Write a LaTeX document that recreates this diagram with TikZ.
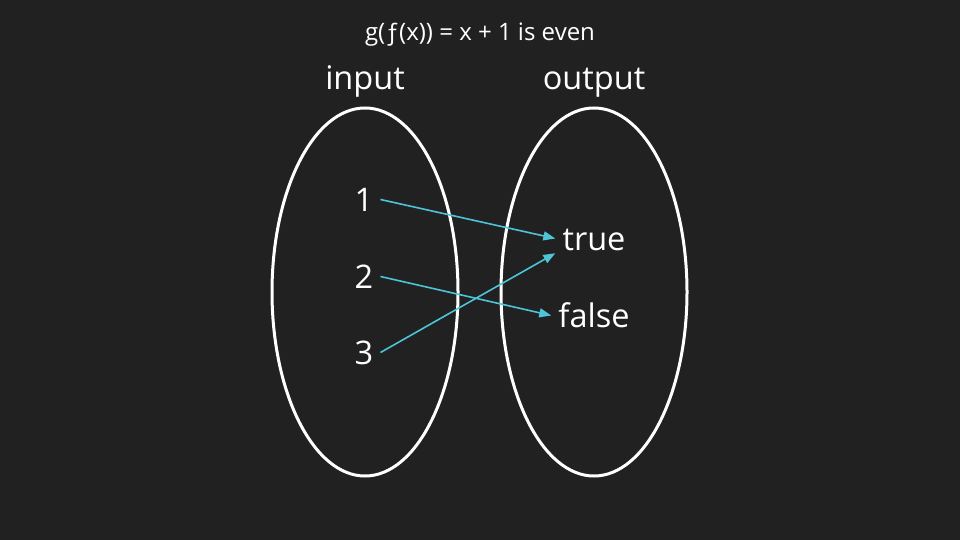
\documentclass[tikz,border=0pt]{standalone}
\usepackage{fontspec}
\setmainfont{Open Sans}
\usepackage{xcolor}
\usepackage{tikz}
\usetikzlibrary{arrows.meta,positioning,calc}

\definecolor{bg}{HTML}{212121}
\definecolor{link}{HTML}{4DC4D8}

\tikzset{
  elem/.style={text=white, font=\fontsize{32.5}{32.5}\selectfont,
               inner xsep=7pt, inner ysep=3pt,
               text height=23pt, text depth=0pt, anchor=base},
  set/.style={draw=white, line width=3pt},
  map/.style={draw=link, line width=1.6pt,
              -{Triangle[length=12pt,width=9pt]}}
}

\begin{document}
\begin{tikzpicture}[x=1pt,y=-1pt]
  \fill[bg] (0,0) rectangle (960,540);
  \useasboundingbox (0,0) rectangle (960,540);

  \node(title)[text=white, font=\fontsize{24}{24}\selectfont,
               anchor=base] at (480,41) { g(ƒ(x)) = x + 1 is even };

  % the two sets
  \draw[set] (365,292) ellipse [x radius=93, y radius=184];
  \draw[set] (594,292) ellipse [x radius=93, y radius=184];

  \node(in)[elem] at (365,90) {input};
  \node(out)[elem] at (594,90) {output};

  \node(n1)[elem] at (364,211) {1};
  \node(n2)[elem] at (364,288) {2};
  \node(n3)[elem] at (364,364) {3};

  \node(ntrue)[elem] at (594,250) {true};
  \node(nfalse)[elem] at (594,327) {false};

  \draw[map] (n1.east) -- (ntrue.west);
  \draw[map] (n2.east) -- (nfalse.west);
  \draw[map] (n3.east) -- (ntrue.south west);

\end{tikzpicture}
\end{document}
